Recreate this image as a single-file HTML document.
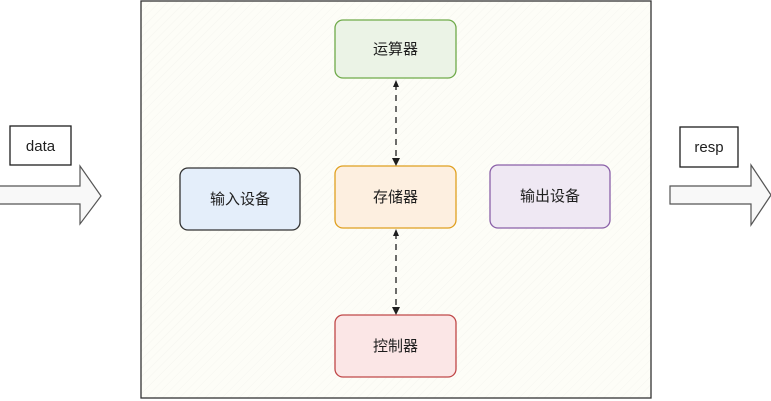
<!DOCTYPE html>
<html><head><meta charset="utf-8"><style>
html,body{margin:0;padding:0;background:#fff;}
svg{display:block;}
text{font-family:"Liberation Sans","Noto Sans CJK SC",sans-serif;font-size:15px;fill:#1e1e1e;}
</style></head><body>
<svg width="771" height="401" viewBox="0 0 771 401" xmlns="http://www.w3.org/2000/svg">
<defs>
<pattern id="h" width="6" height="6" patternUnits="userSpaceOnUse" patternTransform="rotate(45)">
<line x1="0" y1="0" x2="0" y2="6" stroke="#000" stroke-width="1"/>
</pattern>
</defs>
<rect width="771" height="401" fill="#fff"/>
<rect x="141" y="1" width="510" height="397" fill="#fdfdf7" stroke="#333" stroke-width="1.3"/>
<g fill="url(#h)" opacity="0.03">
<rect x="141" y="1" width="510" height="397"/>
</g>
<g stroke-width="1.3">
<rect x="335" y="20" width="121" height="58" rx="8" fill="#ebf3e6" stroke="#6faa4a"/>
<rect x="335" y="166" width="121" height="62" rx="8" fill="#fdefe0" stroke="#e0a020"/>
<rect x="335" y="315" width="121" height="62" rx="8" fill="#fbe6e6" stroke="#c04848"/>
<rect x="180" y="168" width="120" height="62" rx="8" fill="#e4eefa" stroke="#333"/>
<rect x="490" y="165" width="120" height="63" rx="8" fill="#efe8f3" stroke="#8a60a8"/>
</g>
<text x="395.5" y="54" text-anchor="middle">运算器</text>
<text x="395.5" y="202" text-anchor="middle">存储器</text>
<text x="395.5" y="351" text-anchor="middle">控制器</text>
<text x="240" y="204" text-anchor="middle">输入设备</text>
<text x="550" y="201" text-anchor="middle">输出设备</text>
<g stroke="#1e1e1e" stroke-width="1.3" fill="none" stroke-dasharray="6,5">
<line x1="396" y1="84" x2="396" y2="162"/>
<line x1="396" y1="233" x2="396" y2="311"/>
</g>
<g fill="#1e1e1e">
<path d="M396 80 l-3 7 h6z"/>
<path d="M396 166 l-4 -8 h8z"/>
<path d="M396 229 l-3 7 h6z"/>
<path d="M396 315 l-4 -8 h8z"/>
</g>
<rect x="10" y="126" width="61" height="39" fill="#fff" stroke="#1e1e1e" stroke-width="1.3"/>
<text x="40.5" y="151" text-anchor="middle">data</text>
<path d="M0 186 H80 V166 L101 196 L80 224 V204 H0" fill="#f8f8f8" stroke="#555" stroke-width="1.2"/>
<rect x="680" y="127" width="58" height="40" fill="#fff" stroke="#1e1e1e" stroke-width="1.3"/>
<text x="709" y="152" text-anchor="middle">resp</text>
<path d="M670 186 H751 V165 L771 195 L751 225 V204 H670z" fill="#f8f8f8" stroke="#555" stroke-width="1.2"/>
</svg>
</body></html>
